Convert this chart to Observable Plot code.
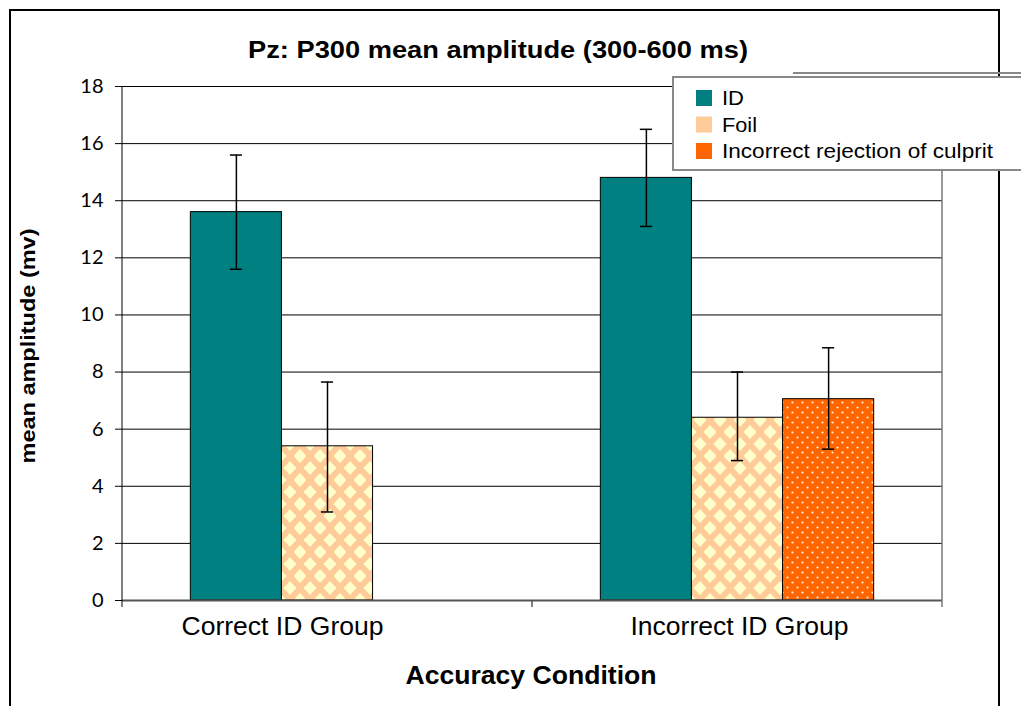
<!DOCTYPE html>
<html>
<head>
<meta charset="utf-8">
<script src="https://cdn.jsdelivr.net/npm/d3@7"></script>
<script src="https://cdn.jsdelivr.net/npm/@observablehq/plot@0.6"></script>
<style>
  html, body { margin: 0; padding: 0; background: #fff; }
  #wrap { position: relative; width: 1021px; height: 706px; overflow: hidden; }
  #wrap svg { position: absolute; left: 0; top: 0; }
</style>
</head>
<body>
<div id="wrap"></div>
<script>
// ---- data ----
const groups = ["Correct ID Group", "Incorrect ID Group"];
const series = ["ID", "Foil", "Incorrect rejection of culprit"];
const idMean = [13.6, 14.8];
const idLow = [11.6, 13.1];
const idHigh = [15.6, 16.5];
const foilMean = [5.4, 6.4];
const foilLow = [3.1, 4.9];
const foilHigh = [7.65, 8.0];
const rejMean = [null, 7.05];
const rejLow = [null, 5.3];
const rejHigh = [null, 8.85];
const yTicks = [0, 2, 4, 6, 8, 10, 12, 14, 16, 18];

const titleText = "Pz: P300 mean amplitude (300-600 ms)";
const yLabelText = "mean amplitude (mv)";
const xLabelText = "Accuracy Condition";

const seriesFills = ["#008080", "url(#foilPat)", "url(#rejPat)"];
const legendFills = ["#008080", "#FFCC99", "#FF6600"];

const means = [idMean, foilMean, rejMean];
const lows = [idLow, foilLow, rejLow];
const highs = [idHigh, foilHigh, rejHigh];
const rows = [];
groups.forEach((g, i) => {
  series.forEach((s, j) => {
    if (means[j][i] != null) rows.push({group: g, series: s, mean: means[j][i], low: lows[j][i], high: highs[j][i]});
  });
});

const FONT = "'Liberation Sans', Arial, sans-serif";

const chart = Plot.plot({
  width: 1021,
  height: 706,
  marginLeft: 122,
  marginRight: 79,
  marginTop: 86,
  marginBottom: 106,
  style: {background: "transparent", color: "#000", fontFamily: FONT, overflow: "visible"},
  fx: {domain: groups, padding: 0, round: false, label: null},
  x: {domain: series, paddingInner: 0, paddingOuter: 0.75, round: false, axis: null},
  y: {domain: [0, 18], label: null},
  color: {domain: series, range: seriesFills},
  marks: [
    Plot.gridY({ticks: yTicks, stroke: "#000", strokeOpacity: 1, strokeWidth: 1}),
    Plot.axisY({ticks: yTicks, tickSize: 7, tickPadding: 12, fontSize: 20, fontFamily: "Lato, 'Open Sans', sans-serif", label: null, stroke: "#000"}),
    Plot.axisFx({ticks: [groups[0]], anchor: "bottom", tickSize: 0, tickPadding: 17, fontSize: 25, label: null, dx: -45}),
    Plot.axisFx({ticks: [groups[1]], anchor: "bottom", tickSize: 0, tickPadding: 17, fontSize: 25, label: null, dx: 2}),
    Plot.barY(rows, {fx: "group", x: "series", y: "mean", fill: "series", stroke: "#000", strokeWidth: 1}),
    Plot.ruleX(rows, {fx: "group", x: "series", y1: "low", y2: "high", stroke: "#000", strokeWidth: 1.5}),
    Plot.tickY(rows, {fx: "group", x: "series", y: "low", insetLeft: 39.5, insetRight: 39.5, stroke: "#000", strokeWidth: 1.5}),
    Plot.tickY(rows, {fx: "group", x: "series", y: "high", insetLeft: 39.5, insetRight: 39.5, stroke: "#000", strokeWidth: 1.5}),
    Plot.ruleY([0], {stroke: "#555", strokeWidth: 2})
  ]
});

document.getElementById("wrap").appendChild(chart);
const svg = d3.select(chart);

// patterns
const defs = svg.insert("defs", ":first-child");
const foil = defs.append("pattern").attr("id", "foilPat").attr("patternUnits", "userSpaceOnUse")
  .attr("width", 20).attr("height", 24);
foil.append("rect").attr("width", 20).attr("height", 24).attr("fill", "#FFCC99");
const diamond = (cx, cy, a, b) => `M${cx},${cy - b}L${cx + a},${cy}L${cx},${cy + b}L${cx - a},${cy}Z`;
[[0, 0], [20, 0], [0, 24], [20, 24], [10, 12]].forEach(([cx, cy]) =>
  foil.append("path").attr("d", diamond(cx, cy, 6.5, 7)).attr("fill", "#FFFFCC"));
const rej = defs.append("pattern").attr("id", "rejPat").attr("patternUnits", "userSpaceOnUse")
  .attr("width", 10).attr("height", 10);
rej.append("rect").attr("width", 10).attr("height", 10).attr("fill", "#FF6600");
[[2.5, 2.5], [7.5, 7.5]].forEach(([cx, cy]) =>
  rej.append("circle").attr("cx", cx).attr("cy", cy).attr("r", 1.1).attr("fill", "#FFF0DD"));

const fx = chart.scale("fx");
const y = chart.scale("y");
const x0 = fx.apply(groups[0]);
const bw = fx.bandwidth;
const yTop = y.apply(18), yBase = y.apply(0);

const over = svg.append("g");
// axis lines and category separators
over.append("line").attr("x1", x0).attr("x2", x0).attr("y1", yTop).attr("y2", yBase + 7).attr("stroke", "#000").attr("stroke-width", 1);
over.append("line").attr("x1", x0 + 2 * bw).attr("x2", x0 + 2 * bw).attr("y1", yTop).attr("y2", yBase + 7).attr("stroke", "#777").attr("stroke-width", 1.5);
over.append("line").attr("x1", x0 + bw).attr("x2", x0 + bw).attr("y1", yBase).attr("y2", yBase + 7).attr("stroke", "#555").attr("stroke-width", 1.5);

// outer frame
over.append("rect").attr("x", 10).attr("y", 10).attr("width", 989).attr("height", 720)
  .attr("fill", "none").attr("stroke", "#000").attr("stroke-width", 2);

function fit(t, w) {
  t.attr("textLength", w).attr("lengthAdjust", "spacingAndGlyphs");
  return t;
}

// title
fit(over.append("text").attr("x", 498).attr("y", 58).attr("text-anchor", "middle")
  .attr("font-family", FONT).attr("font-weight", "bold").attr("font-size", 24).text(titleText), 500);
// x title
fit(over.append("text").attr("x", 531).attr("y", 684).attr("text-anchor", "middle")
  .attr("font-family", FONT).attr("font-weight", "bold").attr("font-size", 25).text(xLabelText), 251);
// y title
fit(over.append("text").attr("transform", "translate(35,346) rotate(-90)").attr("text-anchor", "middle")
  .attr("font-family", FONT).attr("font-weight", "bold").attr("font-size", 20.5).text(yLabelText), 235);
// category labels
const catWidths = [202, 218];
svg.selectAll('g[aria-label="fx-axis tick label"] text').each(function () {
  const t = d3.select(this);
  fit(t, catWidths[groups.indexOf(t.text())]);
});

// legend
const legendWidths = [22, 35, 271];
over.append("line").attr("x1", 793).attr("x2", 1021).attr("y1", 73).attr("y2", 73).attr("stroke", "#888").attr("stroke-width", 2);
over.append("rect").attr("x", 673).attr("y", 77).attr("width", 360).attr("height", 93)
  .attr("fill", "#fff").attr("stroke", "#888").attr("stroke-width", 2);
series.forEach((s, i) => {
  const cy = 98 + i * 26.5;
  over.append("rect").attr("x", 696).attr("y", cy - 8).attr("width", 16).attr("height", 16).attr("fill", legendFills[i]);
  fit(over.append("text").attr("x", 722).attr("y", cy + 7).attr("text-anchor", "start").attr("font-family", FONT)
    .attr("font-size", 19.5).attr("fill", "#000").text(s), legendWidths[i]);
});
</script>
</body>
</html>
